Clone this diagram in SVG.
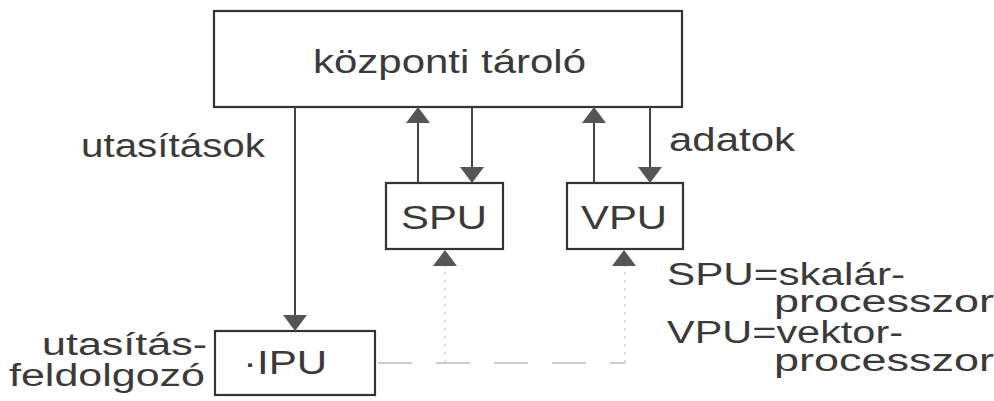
<svg xmlns="http://www.w3.org/2000/svg" width="994" height="401" viewBox="0 0 994 401">
<style>
.box{fill:none;stroke:#333;stroke-width:2.2}
.lbl{font-family:"Liberation Sans",Arial,sans-serif;font-size:34px;fill:#3a3a3a}
.sm{font-size:31px}
.ln{stroke:#444;stroke-width:2;fill:none}
.dash{stroke:#bbb;stroke-width:1.3;fill:none;stroke-dasharray:34 24}
.dot{stroke:#ccc;stroke-width:1.3;fill:none;stroke-dasharray:3 5}
</style>
<defs>
<marker id="ah" viewBox="0 0 16 24" markerWidth="16" markerHeight="24" refX="16" refY="12" orient="auto" markerUnits="userSpaceOnUse">
<path d="M0,0 L16,12 L0,24 z" fill="#555"/>
</marker>
</defs>
<rect width="994" height="401" fill="#fff"/>
<g id="kozponti">
<rect class="box" x="214" y="11" width="468" height="96"/>
<text class="lbl" x="313" y="73" textLength="273" lengthAdjust="spacingAndGlyphs">központi tároló</text>
</g>
<g id="spu">
<rect class="box" x="386" y="183" width="117" height="66"/>
<text class="lbl" x="444" y="229" text-anchor="middle" textLength="86" lengthAdjust="spacingAndGlyphs">SPU</text>
</g>
<g id="vpu">
<rect class="box" x="567" y="183" width="116" height="66"/>
<text class="lbl" x="624" y="229" text-anchor="middle" textLength="86" lengthAdjust="spacingAndGlyphs">VPU</text>
</g>
<g id="ipu">
<rect class="box" x="215" y="331" width="160" height="64"/>
<text class="lbl" x="243" y="374" textLength="84" lengthAdjust="spacingAndGlyphs">·IPU</text>
</g>
<g id="labels">
<text class="lbl" x="81" y="157" textLength="184" lengthAdjust="spacingAndGlyphs">utasítások</text>
<text class="lbl" x="669" y="151" textLength="126" lengthAdjust="spacingAndGlyphs">adatok</text>
<text class="lbl sm" x="42" y="355" textLength="165" lengthAdjust="spacingAndGlyphs">utasítás-</text>
<text class="lbl sm" x="9" y="386" textLength="196" lengthAdjust="spacingAndGlyphs">feldolgozó</text>
</g>
<g id="legend">
<text class="lbl sm" x="667" y="285" textLength="238" lengthAdjust="spacingAndGlyphs">SPU=skalár-</text>
<text class="lbl sm" x="774" y="312" textLength="220" lengthAdjust="spacingAndGlyphs">processzor</text>
<text class="lbl sm" x="667" y="343" textLength="236" lengthAdjust="spacingAndGlyphs">VPU=vektor-</text>
<text class="lbl sm" x="774" y="371" textLength="220" lengthAdjust="spacingAndGlyphs">processzor</text>
</g>
<g id="connectors">
<line class="ln" x1="295" y1="107" x2="295" y2="331" marker-end="url(#ah)"/>
<line class="ln" x1="418" y1="183" x2="418" y2="107" marker-end="url(#ah)"/>
<line class="ln" x1="472" y1="107" x2="472" y2="183" marker-end="url(#ah)"/>
<line class="ln" x1="594" y1="183" x2="594" y2="107" marker-end="url(#ah)"/>
<line class="ln" x1="650" y1="107" x2="650" y2="183" marker-end="url(#ah)"/>
<path class="dash" d="M378,363 H625"/>
<path class="dot" d="M445,363 V266"/>
<path class="dot" d="M625,363 V266"/>
<line x1="445" y1="266" x2="445" y2="250" stroke="none" marker-end="url(#ah)"/>
<line x1="624" y1="266" x2="624" y2="250" stroke="none" marker-end="url(#ah)"/>
</g>
</svg>
